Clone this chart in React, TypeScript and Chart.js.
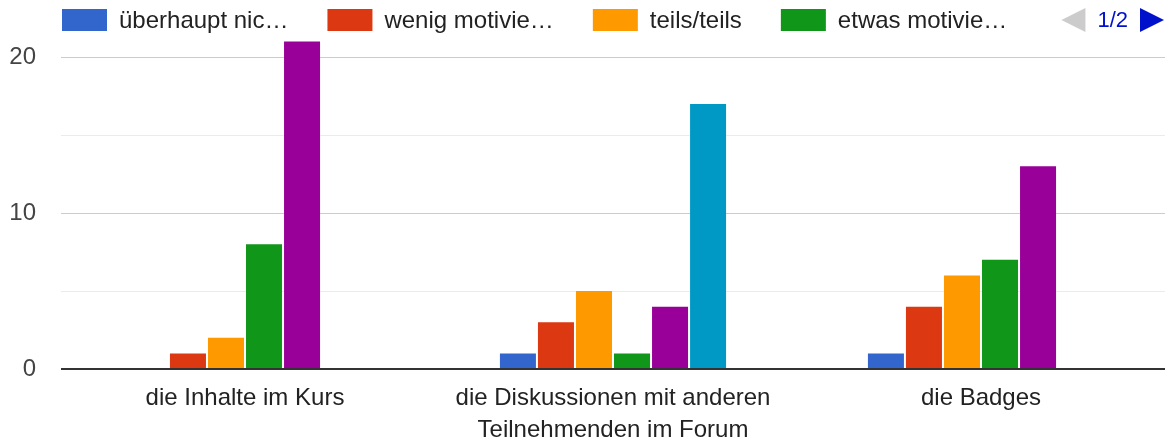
import React, { useEffect, useRef } from "react";
import { Chart, registerables } from "chart.js";

Chart.register(...registerables);

const categories: string[][] = [
  ["die Inhalte im Kurs"],
  ["die Diskussionen mit anderen", "Teilnehmenden im Forum"],
  ["die Badges"],
];

const seriesNames = [
  "überhaupt nicht motiviert",
  "wenig motiviert",
  "teils/teils",
  "etwas motiviert",
  "sehr motiviert",
  "keine Angabe",
];
const legendLabels = ["überhaupt nic…", "wenig motivie…", "teils/teils", "etwas motivie…"];
const seriesColors = ["#3366cc", "#dc3912", "#ff9900", "#109618", "#990099", "#0099c6"];

const ueberhauptNicht = [0, 1, 1];
const wenigMotiviert = [1, 3, 4];
const teilsTeils = [2, 5, 6];
const etwasMotiviert = [8, 1, 7];
const sehrMotiviert = [21, 4, 13];
const keineAngabe = [0, 17, 0];
const seriesValues = [ueberhauptNicht, wenigMotiviert, teilsTeils, etwasMotiviert, sehrMotiviert, keineAngabe];

const yTicks = [0, 5, 10, 15, 20];
const yLabelled = [0, 10, 20];
const pagerText = "1/2";

const FONT = "Liberation Sans, Arial, sans-serif";

const legendPlugin = {
  id: "googleLegend",
  afterDraw(chart: any) {
    const ctx = chart.ctx;
    ctx.save();
    ctx.font = `24px ${FONT}`;
    ctx.textBaseline = "middle";
    ctx.textAlign = "left";
    let x = 62;
    const y = 9;
    const boxW = 45;
    const boxH = 22;
    legendLabels.forEach((t, i) => {
      ctx.fillStyle = seriesColors[i];
      ctx.fillRect(x, y, boxW, boxH);
      x += boxW + 12;
      ctx.fillStyle = "#222222";
      ctx.fillText(t, x, y + boxH / 2 + 1);
      x += ctx.measureText(t).width + 39;
    });
    // pager
    const right = 1164;
    const triW = 24;
    const cy = y + boxH / 2;
    ctx.fillStyle = "#0011cc";
    ctx.beginPath();
    ctx.moveTo(right - triW, cy - 12);
    ctx.lineTo(right, cy);
    ctx.lineTo(right - triW, cy + 12);
    ctx.closePath();
    ctx.fill();
    ctx.font = `22px ${FONT}`;
    const tw = ctx.measureText(pagerText).width;
    const textRight = right - triW - 12;
    ctx.fillText(pagerText, textRight - tw, cy + 1);
    const lRight = textRight - tw - 12;
    ctx.fillStyle = "#cccccc";
    ctx.beginPath();
    ctx.moveTo(lRight, cy - 12);
    ctx.lineTo(lRight - triW, cy);
    ctx.lineTo(lRight, cy + 12);
    ctx.closePath();
    ctx.fill();
    ctx.restore();
  },
};

const baselinePlugin = {
  id: "baseline",
  afterDatasetsDraw(chart: any) {
    const { ctx, chartArea, scales } = chart;
    const y0 = scales.y.getPixelForValue(0);
    ctx.save();
    ctx.strokeStyle = "#333333";
    ctx.lineWidth = 2;
    ctx.beginPath();
    ctx.moveTo(chartArea.left, y0);
    ctx.lineTo(chartArea.right, y0);
    ctx.stroke();
    ctx.restore();
  },
};

export default function App() {
  const canvasRef = useRef<HTMLCanvasElement | null>(null);

  useEffect(() => {
    if (!canvasRef.current) return;
    const chart = new Chart(canvasRef.current, {
      type: "bar",
      data: {
        labels: categories,
        datasets: seriesNames.map((name, i) => ({
          label: name,
          data: seriesValues[i],
          backgroundColor: seriesColors[i],
          borderWidth: 0,
          categoryPercentage: 0.62,
          barPercentage: 0.947,
        })),
      },
      options: {
        animation: false,
        responsive: true,
        maintainAspectRatio: false,
        layout: { padding: { top: 26, right: 5, bottom: 0, left: 0 } },
        plugins: {
          legend: { display: false },
          tooltip: { enabled: false },
        },
        scales: {
          x: {
            grid: { display: false, drawTicks: false },
            border: { display: false },
            ticks: {
              color: "#222222",
              font: { family: FONT, size: 24, lineHeight: 1.35 },
              padding: 13,
              maxRotation: 0,
              autoSkip: false,
            },
            afterFit(scale: any) {
              scale.height = 76;
              scale.paddingLeft = 0;
              scale.paddingRight = 0;
            },
          },
          y: {
            min: 0,
            max: 22,
            afterBuildTicks(scale: any) {
              scale.ticks = yTicks.map((v) => ({ value: v }));
            },
            grid: {
              drawTicks: false,
              color: (c: any) => {
                const v = c.tick ? c.tick.value : 0;
                if (v === 0) return "rgba(0,0,0,0)";
                return yLabelled.includes(v) ? "#cccccc" : "#ebebeb";
              },
              lineWidth: 1,
            },
            border: { display: false },
            ticks: {
              color: "#444444",
              font: { family: FONT, size: 24 },
              padding: 25,
              callback: (v: any) => (yLabelled.includes(Number(v)) ? String(v) : ""),
            },
            afterFit(scale: any) {
              scale.width = 61;
              scale.paddingTop = 0;
              scale.paddingBottom = 0;
            },
          },
        },
      },
      plugins: [legendPlugin, baselinePlugin],
    });
    return () => chart.destroy();
  }, []);

  return (
    <div style={{ position: "fixed", left: 0, top: 0, width: 1170, height: 445, background: "#fff" }}>
      <canvas ref={canvasRef} />
    </div>
  );
}
